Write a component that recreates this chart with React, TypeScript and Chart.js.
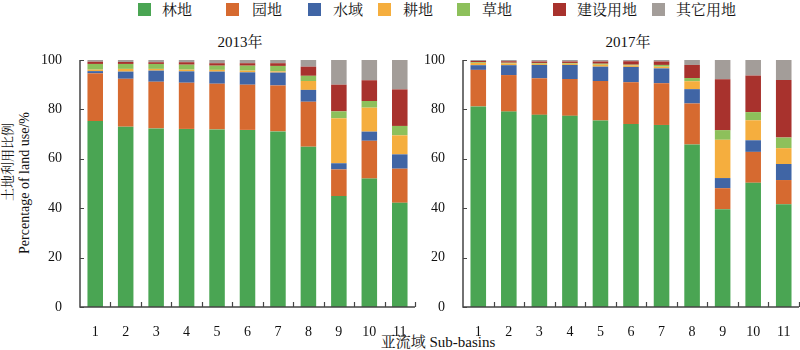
import React, { useEffect, useRef } from "react";
import { Chart, registerables } from "chart.js";

Chart.register(...registerables);

const categories = ["1", "2", "3", "4", "5", "6", "7", "8", "9", "10", "11"];
const seriesNames = ["林地", "园地", "水域", "耕地", "草地", "建设用地", "其它用地"];
const seriesColors = ["#4aa553", "#d66a30", "#4065a5", "#f5ae3e", "#8dc05b", "#a8322d", "#a39d99"];

// 2013
const forest2013 = [75.3, 73.0, 72.3, 72.1, 71.9, 71.7, 71.1, 64.9, 44.9, 52.0, 42.2];
const garden2013 = [19.3, 19.4, 18.9, 18.7, 18.5, 18.3, 18.6, 18.2, 10.8, 15.3, 13.8];
const water2013 = [0.9, 2.9, 4.5, 4.6, 4.9, 5.0, 5.2, 4.8, 2.5, 3.7, 5.8];
const farm2013 = [0.6, 1.1, 0.7, 0.7, 0.7, 0.7, 0.5, 3.6, 18.2, 9.7, 7.7];
const grass2013 = [2.3, 2.0, 2.0, 2.0, 1.7, 2.0, 2.2, 2.1, 2.8, 2.7, 3.8];
const build2013 = [0.9, 0.8, 0.7, 1.0, 1.0, 1.0, 1.1, 3.7, 10.8, 8.4, 14.8];
const other2013 = [0.7, 0.8, 0.9, 0.9, 1.3, 1.3, 1.3, 2.7, 10.0, 8.2, 11.9];

// 2017
const forest2017 = [81.2, 79.1, 77.8, 77.4, 75.5, 74.1, 73.7, 65.8, 39.6, 50.3, 41.6];
const garden2017 = [14.8, 14.8, 14.8, 14.9, 16.0, 16.9, 16.9, 16.6, 8.5, 12.5, 9.8];
const water2017 = [1.9, 4.0, 5.4, 5.7, 5.8, 6.2, 6.0, 5.8, 4.1, 4.7, 6.5];
const farm2017 = [0.9, 0.7, 0.5, 0.5, 0.8, 0.6, 0.7, 3.2, 15.5, 8.1, 6.4];
const grass2017 = [0.3, 0.3, 0.3, 0.3, 0.4, 0.3, 0.7, 1.3, 3.9, 3.3, 4.3];
const build2017 = [0.5, 0.6, 0.6, 0.6, 0.9, 1.4, 1.4, 5.3, 20.6, 14.8, 23.3];
const other2017 = [0.4, 0.5, 0.6, 0.6, 0.6, 0.5, 0.6, 2.0, 7.8, 6.3, 8.1];

const yTicks = [0, 20, 40, 60, 80, 100];

const FONT = '"Times New Roman", "Liberation Serif", "Noto Serif CJK SC", "Noto Sans CJK SC", serif';
const AXIS_COLOR = "#444";

const axesPlugin = {
  id: "customAxes",
  afterDraw(chart: any) {
    const { ctx, chartArea } = chart;
    const { left, right, top, bottom } = chartArea;
    const xs = chart.scales.x;
    const ys = chart.scales.y;
    ctx.save();
    ctx.strokeStyle = AXIS_COLOR;
    ctx.lineWidth = 1.5;
    ctx.beginPath();
    ctx.moveTo(left, top);
    ctx.lineTo(left, bottom);
    ctx.lineTo(right, bottom);
    ctx.stroke();
    ctx.lineWidth = 1.2;
    ctx.beginPath();
    yTicks.forEach((v) => {
      const y = Math.round(ys.getPixelForValue(v)) + 0.5;
      ctx.moveTo(left, y);
      ctx.lineTo(left + 4, y);
    });
    const n = categories.length;
    for (let i = 1; i <= n; i++) {
      const x0 = xs.getPixelForValue(i - 1);
      const x1 = i < n ? xs.getPixelForValue(i) : x0 + (x0 - xs.getPixelForValue(i - 2));
      const x = Math.round((x0 + x1) / 2) + 0.5;
      ctx.moveTo(x, bottom);
      ctx.lineTo(x, bottom - 5);
    }
    ctx.stroke();
    ctx.restore();
  },
};

function makeConfig(series: number[][], padRight: number): any {
  return {
    type: "bar",
    data: {
      labels: categories,
      datasets: series.map((d, i) => ({
        label: seriesNames[i],
        data: d,
        backgroundColor: seriesColors[i],
        borderWidth: 0,
        categoryPercentage: 1,
        barPercentage: 0.51,
      })),
    },
    options: {
      responsive: false,
      animation: false,
      layout: { padding: { top: 10, right: padRight, left: 0, bottom: 0 } },
      plugins: { legend: { display: false }, title: { display: false }, tooltip: { enabled: false } },
      scales: {
        x: {
          stacked: true,
          grid: { display: false },
          border: { display: false },
          ticks: { color: "#111", font: { family: FONT, size: 14 }, padding: 9, maxRotation: 0 },
          afterFit: (s: any) => {
            s.height = 30;
            s.paddingLeft = 0;
            s.paddingRight = 0;
          },
        },
        y: {
          stacked: true,
          min: 0,
          max: 100,
          grid: { display: false },
          border: { display: false },
          afterBuildTicks: (s: any) => {
            s.ticks = yTicks.map((v) => ({ value: v }));
          },
          ticks: { color: "#111", font: { family: FONT, size: 14 }, padding: 10 },
          afterFit: (s: any) => {
            s.width = 40;
            s.paddingTop = 0;
            s.paddingBottom = 0;
          },
        },
      },
    },
    plugins: [axesPlugin],
  };
}

function BarChart({ series, left, width, padRight }: { series: number[][]; left: number; width: number; padRight: number }) {
  const ref = useRef<HTMLCanvasElement | null>(null);
  useEffect(() => {
    if (!ref.current) return;
    const chart = new Chart(ref.current, makeConfig(series, padRight));
    return () => chart.destroy();
  }, []);
  return (
    <canvas
      ref={ref}
      width={width}
      height={287}
      style={{ position: "absolute", left, top: 50, width, height: 287 }}
    />
  );
}

const legendBoxX = [138, 226, 308, 378, 457, 553, 652];
const legendTextX = [162, 252, 333, 403, 482, 577, 676];

export default function App() {
  const s2013 = [forest2013, garden2013, water2013, farm2013, grass2013, build2013, other2013];
  const s2017 = [forest2017, garden2017, water2017, farm2017, grass2017, build2017, other2017];
  const txt: React.CSSProperties = { position: "absolute", fontFamily: FONT, color: "#111", whiteSpace: "nowrap" };
  return (
    <div style={{ position: "absolute", left: 0, top: 0, width: 800, height: 350, background: "#fff", overflow: "hidden" }}>
      {seriesNames.map((name, i) => (
        <React.Fragment key={name}>
          <div style={{ position: "absolute", left: legendBoxX[i], top: 3, width: 13, height: 13, background: seriesColors[i] }} />
          <div style={{ ...txt, left: legendTextX[i], top: 0, fontSize: 15, lineHeight: "20px" }}>{name}</div>
        </React.Fragment>
      ))}
      <div style={{ ...txt, left: 190, width: 100, top: 32, textAlign: "center", fontSize: 15, lineHeight: "20px" }}>2013年</div>
      <div style={{ ...txt, left: 578, width: 100, top: 32, textAlign: "center", fontSize: 15, lineHeight: "20px" }}>2017年</div>
      <div
        style={{ ...txt, left: 8 - 60, top: 162 - 10, width: 120, height: 20, lineHeight: "20px", textAlign: "center", fontSize: 13, transform: "rotate(-90deg)" }}
      >
        土地利用比例
      </div>
      <div
        style={{ ...txt, left: 25 - 100, top: 183 - 10, width: 200, height: 20, lineHeight: "20px", textAlign: "center", fontSize: 14, transform: "rotate(-90deg)" }}
      >
        Percentage of land use/%
      </div>
      <div style={{ ...txt, left: 338, width: 200, top: 332, textAlign: "center", fontSize: 15, lineHeight: "20px" }}>亚流域 Sub-basins</div>
      <BarChart series={s2013} left={40} width={380} padRight={5} />
      <BarChart series={s2017} left={423} width={377} padRight={1} />
    </div>
  );
}
